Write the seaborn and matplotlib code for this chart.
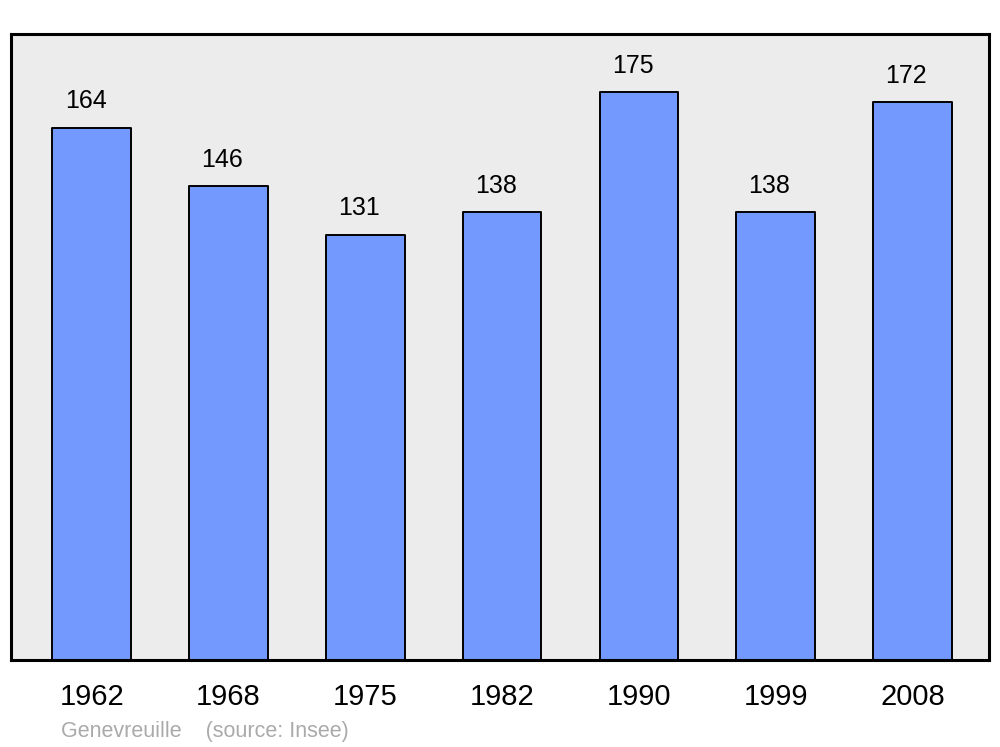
import matplotlib
matplotlib.use("Agg")
import matplotlib.pyplot as plt
import seaborn as sns

# population data
years = ["1962", "1968", "1975", "1982", "1990", "1999", "2008"]
population = [164, 146, 131, 138, 175, 138, 172]
commune = "Genevreuille"
source = "(source: Insee)"

sns.set_theme(style="white")
plt.rcParams["font.family"] = ["Liberation Sans", "DejaVu Sans"]

fig = plt.figure(figsize=(10, 7.47), dpi=100)
ax = fig.add_axes([0.011, 0.1165, 0.978, 0.838])
ax.set_facecolor("#ececec")

sns.barplot(x=years, y=population, color="#7399ff", edgecolor="black",
            linewidth=1.4, width=0.575, saturation=1, ax=ax)
for p in ax.patches:
    p.set_joinstyle("round")

for i, v in enumerate(population):
    ax.text(i - 0.045, v + 8.2, str(v), ha="center", va="center",
            fontsize=18, color="black")

ax.set_xlim(-0.59, 6.56)
ax.set_ylim(0, 193)
ax.set_yticks([])
ax.set_xlabel("")
ax.set_ylabel("")
ax.tick_params(axis="x", length=0, pad=16.5, labelsize=21, colors="black")

for sp in ax.spines.values():
    sp.set_visible(True)
    sp.set_color("black")
    sp.set_linewidth(2.2)
    sp.set_joinstyle("round")

fig.text(0.061, 0.0205, commune + "    " + source, color="#aaaaaa",
         fontsize=15.5, ha="left", va="center")

fig.savefig("out.png", dpi=100)
